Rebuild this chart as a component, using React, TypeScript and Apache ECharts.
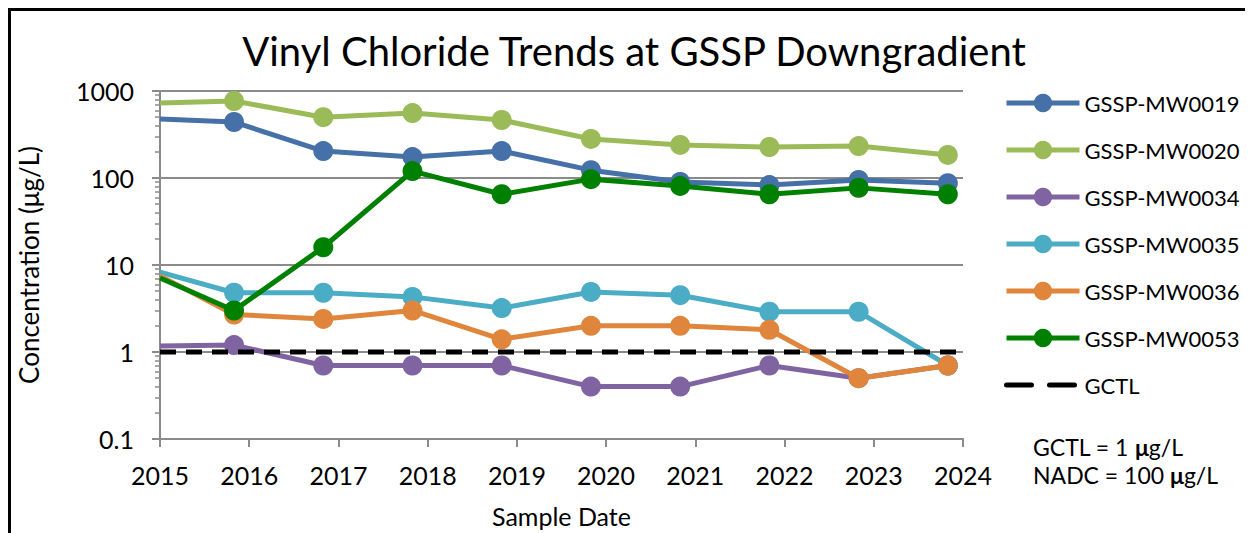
import React, { useEffect, useRef } from "react";
import * as echarts from "echarts";

const seriesNames = ["GSSP-MW0019", "GSSP-MW0020", "GSSP-MW0034", "GSSP-MW0035", "GSSP-MW0036", "GSSP-MW0053"];
const seriesColors = ["#4671A8", "#9BBB59", "#8064A2", "#4BACC6", "#E0863C", "#008000"];
const sampleDates = [2015.83, 2016.83, 2017.83, 2018.83, 2019.83, 2020.83, 2021.83, 2022.83, 2023.83];
// value where each line enters the plot at the left edge (2015)
const startValues = [476, 730, 1.17, 8.3, 7.5, 7.1];
const mw0019 = [440, 204, 174, 204, 123, 90, 83, 95, 87];
const mw0020 = [767, 500, 558, 464, 281, 240, 227, 233, 184];
const mw0034 = [1.2, 0.7, 0.7, 0.7, 0.4, 0.4, 0.7, 0.5, 0.7];
const mw0035 = [4.8, 4.8, 4.3, 3.2, 4.9, 4.5, 2.9, 2.9, 0.7];
const mw0036 = [2.7, 2.4, 3.0, 1.4, 2.0, 2.0, 1.8, 0.5, 0.7];
const mw0053 = [3.0, 16, 120, 65, 97, 81, 65, 77, 65];
const allValues = [mw0019, mw0020, mw0034, mw0035, mw0036, mw0053];
const gctlValue = 1;
const xRange = [2015, 2024];
const yRange = [0.1, 1000];

const FONT = "Lato";

export default function App() {
  const ref = useRef<HTMLDivElement>(null);
  useEffect(() => {
    if (!ref.current) return;
    const chart = echarts.init(ref.current, null, { renderer: "svg" });
    const lineSeries = seriesNames.map((name, i) => ({
      name,
      type: "line",
      data: [
        { value: [xRange[0], startValues[i]], symbol: "none" },
        ...sampleDates.map((d, j) => [d, allValues[i][j]]),
      ],
      symbol: "circle",
      symbolSize: 20,
      showAllSymbol: true,
      lineStyle: { width: 5, color: seriesColors[i] },
      itemStyle: { color: seriesColors[i] },
      emphasis: { disabled: true },
      z: 2 + i,
    }));
    const gctl = {
      name: "GCTL",
      type: "line",
      data: [
        [xRange[0], gctlValue],
        [xRange[1], gctlValue],
      ],
      symbol: "none",
      lineStyle: { width: 5, color: "#000", type: [16, 10] },
      itemStyle: { color: "#000" },
      emphasis: { disabled: true },
      z: 10,
    };
    chart.setOption({
      animation: false,
      title: {
        text: "Vinyl Chloride Trends at GSSP Downgradient",
        left: 621,
        textAlign: "center",
        top: 18,
        textStyle: { fontFamily: FONT, fontSize: 40, fontWeight: "normal", color: "#000" },
      },
      grid: { left: 150, right: 290, top: 83, bottom: 94 },
      legend: {
        orient: "vertical",
        left: 996,
        top: 84,
        padding: 0,
        itemWidth: 73,
        itemHeight: 23,
        itemGap: 25,
        lineStyle: { width: 5 },
        textStyle: { fontFamily: FONT, fontSize: 22, color: "#000" },
        data: [
          ...seriesNames,
          {
            name: "GCTL",
            itemStyle: { opacity: 0 },
            lineStyle: { width: 5, type: [25, 18], cap: "round" },
          },
        ],
      },
      xAxis: {
        type: "value",
        min: xRange[0],
        max: xRange[1],
        interval: 1,
        name: "Sample Date",
        nameLocation: "middle",
        nameGap: 64,
        nameTextStyle: { fontFamily: FONT, fontSize: 25, color: "#000" },
        axisLine: { lineStyle: { color: "#8a8a8a", width: 2 } },
        axisTick: { show: true, length: 8, lineStyle: { color: "#8a8a8a", width: 2 } },
        axisLabel: {
          fontFamily: FONT,
          fontSize: 25,
          color: "#000",
          margin: 23,
          formatter: (v: number) => String(Math.round(v)),
        },
        splitLine: { show: false },
      },
      yAxis: {
        type: "log",
        logBase: 10,
        min: yRange[0],
        max: yRange[1],
        name: "Concentration (μg/L)",
        nameLocation: "middle",
        nameGap: 118,
        nameTextStyle: { fontFamily: FONT, fontSize: 26, color: "#000" },
        axisLine: { show: true, lineStyle: { color: "#8a8a8a", width: 2 } },
        axisTick: { show: true, length: 8, lineStyle: { color: "#8a8a8a", width: 2 } },
        minorTick: { show: true, splitNumber: 9, length: 5, lineStyle: { color: "#8a8a8a", width: 1.5 } },
        axisLabel: {
          fontFamily: FONT,
          fontSize: 25,
          color: "#000",
          margin: 26,
          formatter: (v: number) => (v < 1 ? String(v) : String(Math.round(v))),
        },
        splitLine: { show: true, lineStyle: { color: "#8a8a8a", width: 2 } },
      },
      graphic: [
        {
          type: "text",
          left: 1025,
          top: 425,
          style: {
            text: "GCTL = 1 {b|μ}g/L\nNADC = 100 {b|μ}g/L",
            fontFamily: FONT,
            fontSize: 23,
            lineHeight: 28,
            fill: "#000",
            rich: { b: { fontFamily: FONT, fontSize: 23, lineHeight: 28, fontWeight: "bold", fill: "#000" } },
          },
        },
      ],
      series: [...lineSeries, gctl],
    });
    return () => chart.dispose();
  }, []);
  return (
    <div
      style={{
        width: 1245,
        height: 525,
        borderTop: "3px solid #000",
        borderLeft: "3px solid #000",
        boxSizing: "border-box",
        position: "relative",
        background: "#fff",
      }}
    >
      <div ref={ref} style={{ position: "absolute", left: -3, top: -3, width: 1245, height: 525 }} />
    </div>
  );
}
